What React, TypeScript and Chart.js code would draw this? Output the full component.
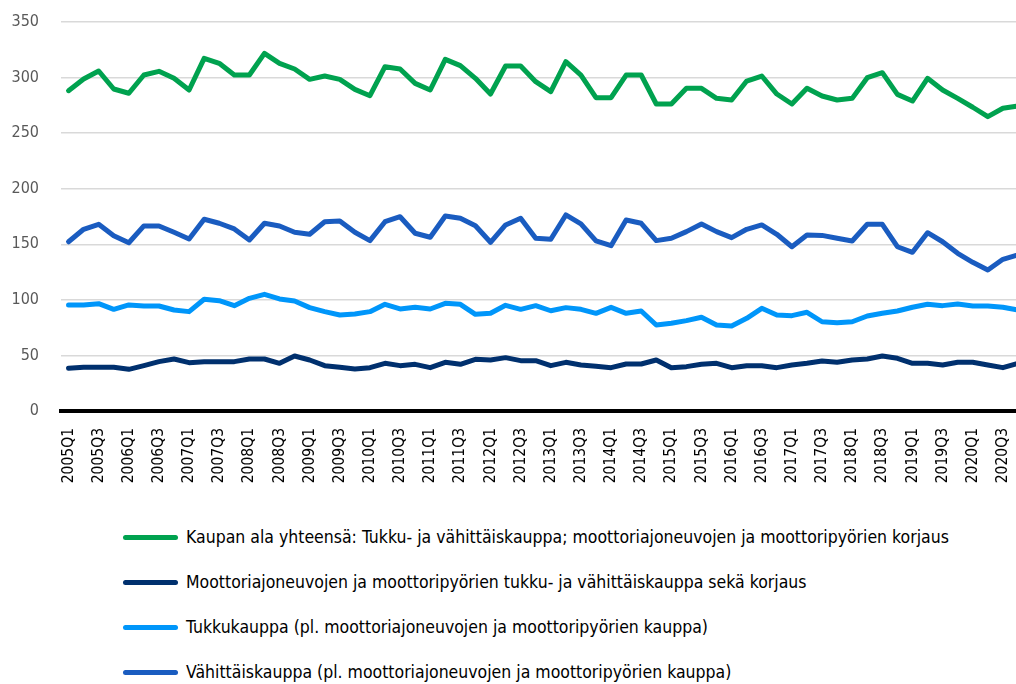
import React, { useEffect, useRef } from "react";
import { Chart, registerables } from "chart.js";

Chart.register(...registerables);

const YEARS = [2005, 2006, 2007, 2008, 2009, 2010, 2011, 2012, 2013, 2014, 2015, 2016, 2017, 2018, 2019, 2020];
const QUARTERS = ["Q1", "Q2", "Q3", "Q4"];
const CATEGORIES: string[] = YEARS.flatMap((y) => QUARTERS.map((q) => `${y}${q}`));

const TOTAL = [288.2, 298.7, 305.9, 289.7, 285.9, 302.3, 305.6, 299.3, 288.8, 317.3, 312.8, 302.3, 302.3, 321.8, 312.8, 307.7, 298.4, 301.4, 298.4, 289.4, 283.7, 309.8, 307.7, 294.8, 288.8, 316.4, 310.7, 299.3, 285.2, 310.4, 310.4, 296.3, 287.3, 314.3, 302.3, 281.9, 281.9, 302.3, 302.3, 276.2, 276.2, 290.3, 290.3, 281.3, 279.8, 296.9, 301.4, 285.2, 276.2, 290.3, 283.4, 279.8, 281.3, 299.9, 304.4, 284.9, 278.9, 299.3, 288.8, 281.3, 273.3, 264.8, 272.4, 274.4];
const MOTOR = [38.4, 39.3, 39.3, 39.3, 37.5, 40.8, 44.4, 46.8, 43.5, 44.4, 44.4, 44.4, 46.8, 46.8, 42.9, 49.5, 45.9, 40.8, 39.3, 37.8, 39, 42.9, 40.8, 42, 39, 43.8, 42, 46.5, 45.9, 48, 45.3, 45.3, 40.8, 43.8, 41.4, 40.2, 39, 42.3, 42.3, 45.9, 39, 39.9, 42, 42.9, 39, 40.8, 40.8, 39, 41.4, 42.9, 45, 43.8, 45.9, 46.8, 49.5, 47.4, 42.9, 42.9, 41.4, 43.8, 43.8, 41.4, 39, 42.9];
const WHOLESALE = [95.4, 95.4, 96.6, 91.5, 95.4, 94.5, 94.5, 90.9, 89.4, 100.5, 99.3, 94.8, 101.4, 105, 100.8, 99, 93, 89.4, 86.4, 87.3, 89.4, 96, 91.8, 93.3, 91.8, 96.9, 96, 87, 87.9, 95.1, 91.5, 94.8, 90.2, 93, 91.5, 87.9, 93.3, 87.9, 90, 77.4, 78.9, 81.3, 84.3, 77.4, 76.5, 83.4, 92.4, 86.4, 85.8, 88.8, 80.3, 79.5, 80.3, 85.5, 87.9, 90, 93.3, 96, 94.8, 96.3, 94.5, 94.5, 93.3, 90.9];
const RETAIL = [152.3, 163.5, 168, 157.7, 151.4, 166.5, 166.5, 160.8, 154.8, 172.5, 168.9, 163.8, 153.9, 168.9, 166.5, 160.8, 159, 170.3, 171, 160.8, 153.3, 170.3, 174.8, 159.9, 156.3, 175.5, 173.4, 166.7, 151.8, 167.4, 173.4, 155.4, 154.5, 176.4, 168.3, 153, 148.7, 171.9, 168.9, 153.3, 155.4, 161.4, 168.3, 161.4, 156, 163.5, 167.4, 159, 147.8, 158.4, 158, 155.4, 153, 168, 168, 147.8, 142.8, 160.4, 152.3, 141.9, 133.8, 126.9, 136.5, 140.4];

const SERIES_NAMES = [
  "Kaupan ala yhteensä: Tukku- ja vähittäiskauppa; moottoriajoneuvojen ja moottoripyörien korjaus",
  "Moottoriajoneuvojen ja moottoripyörien tukku- ja vähittäiskauppa sekä korjaus",
  "Tukkukauppa (pl. moottoriajoneuvojen ja moottoripyörien kauppa)",
  "Vähittäiskauppa (pl. moottoriajoneuvojen ja moottoripyörien kauppa)",
];
const SERIES_COLORS = ["#00A24F", "#00306E", "#0096FA", "#1A5CC0"];
const SERIES_DATA = [TOTAL, MOTOR, WHOLESALE, RETAIL];

const FONT = "'DejaVu Sans Condensed', 'DejaVu Sans', sans-serif";

export default function App() {
  const canvasRef = useRef<HTMLCanvasElement | null>(null);

  useEffect(() => {
    const canvas = canvasRef.current;
    if (!canvas) return;
    const chart = new Chart(canvas, {
      type: "line",
      data: {
        labels: CATEGORIES,
        datasets: SERIES_NAMES.map((name, i) => ({
          label: name,
          data: SERIES_DATA[i],
          borderColor: SERIES_COLORS[i],
          backgroundColor: SERIES_COLORS[i],
          borderWidth: 5,
          pointRadius: 0,
          pointHoverRadius: 0,
          tension: 0,
          fill: false,
          borderJoinStyle: "round" as const,
          borderCapStyle: "round" as const,
        })),
      },
      options: {
        responsive: false,
        animation: false,
        devicePixelRatio: 1,
        layout: { padding: { left: 0, top: 22, right: 4.5, bottom: 0 } },
        plugins: {
          legend: { display: false },
          tooltip: { enabled: false },
        },
        scales: {
          x: {
            type: "category",
            offset: true,
            grid: { display: false, drawTicks: false },
            border: { display: true, color: "#000000", width: 4 },
            ticks: {
              autoSkip: false,
              minRotation: 90,
              maxRotation: 90,
              padding: 17,
              color: "#000000",
              font: { family: FONT, size: 15.5 },
              callback: (_v: any, idx: number) => (idx % 2 === 0 ? CATEGORIES[idx] : ""),
            },
            afterFit: (scale: any) => {
              scale.height = 89;
              scale.paddingLeft = 0;
              scale.paddingRight = 0;
            },
          },
          y: {
            min: 0,
            max: 350,
            border: { display: false },
            grid: { color: "#D9D9D9", lineWidth: 1.5, drawTicks: false },
            ticks: {
              stepSize: 50,
              padding: 22,
              color: "#595959",
              font: { family: FONT, size: 16 },
            },
            afterFit: (scale: any) => {
              scale.width = 61;
              scale.paddingTop = 0;
              scale.paddingBottom = 0;
            },
          },
        },
      },
    });
    return () => chart.destroy();
  }, []);

  return (
    <div
      style={{
        position: "fixed",
        top: 0,
        left: 0,
        width: 1016,
        height: 684,
        overflow: "hidden",
        background: "#ffffff",
      }}
    >
      <canvas ref={canvasRef} width={1030} height={500} style={{ width: 1030, height: 500, display: "block" }} />
      {SERIES_NAMES.map((name, i) => (
        <div
          key={name}
          style={{
            position: "absolute",
            left: 123,
            top: 537 + i * 45 - 15,
            height: 30,
            display: "flex",
            alignItems: "center",
            whiteSpace: "nowrap",
            fontFamily: FONT,
            fontSize: 17.5,
            color: "#000000",
          }}
        >
          <span
            style={{
              display: "inline-block",
              width: 55,
              height: 5,
              borderRadius: 3,
              background: SERIES_COLORS[i],
              marginRight: 8,
            }}
          />
          <span>{name}</span>
        </div>
      ))}
    </div>
  );
}
